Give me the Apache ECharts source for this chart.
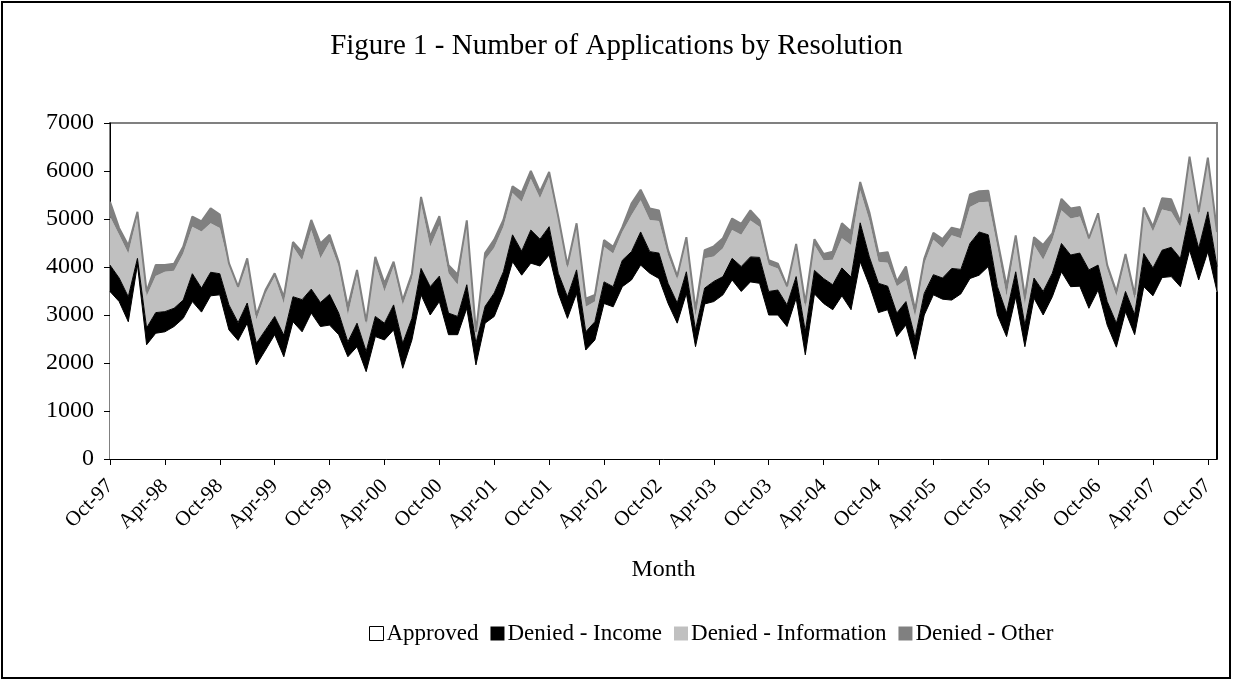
<!DOCTYPE html>
<html>
<head>
<meta charset="utf-8">
<script src="https://cdn.jsdelivr.net/npm/echarts@6/dist/echarts.min.js"></script>
<style>html,body{margin:0;padding:0;background:#fff}#c{width:1233px;height:681px}</style>
</head>
<body>
<div id="c"></div>
<script>
// Month labels Oct-97 .. Nov-07
const monthNames = ['Jan','Feb','Mar','Apr','May','Jun','Jul','Aug','Sep','Oct','Nov','Dec'];
const categories = [];
for (let i = 0; i < 122; i++) {
  const mi = (9 + i) % 12;
  const yy = (97 + Math.floor((9 + i) / 12)) % 100;
  categories.push(monthNames[mi] + '-' + String(yy).padStart(2, '0'));
}
const yTicks = [0,1000,2000,3000,4000,5000,6000,7000];

const approved = [3490,3280,2860,4050,2380,2620,2650,2760,2930,3280,
3060,3400,3420,2690,2470,2830,1960,2270,2590,2130,
2860,2650,3040,2760,2790,2590,2130,2340,1820,2550,
2480,2690,1890,2480,3420,3000,3280,2590,2590,3140,
1960,2830,2970,3450,4110,3830,4080,4020,4250,3450,
2930,3450,2270,2480,3240,3170,3590,3730,4040,3870,
3760,3240,2830,3450,2340,3230,3280,3420,3730,3490,
3690,3660,3000,3000,2760,3350,2170,3440,3240,3110,
3400,3110,4110,3620,3050,3110,2550,2790,2080,3000,
3420,3330,3310,3440,3760,3830,4010,3000,2550,3380,
2340,3350,3000,3380,3900,3590,3600,3140,3520,2790,
2330,3070,2590,3590,3400,3780,3800,3590,4350,3730,
4320,3490];

const deniedIncome = [550,490,520,130,350,430,420,380,380,580,
500,490,440,520,370,420,450,420,380,450,
520,670,500,500,640,450,310,490,420,420,
350,520,520,450,550,590,530,450,380,490,
450,350,490,450,560,500,690,560,590,420,
450,490,380,380,450,420,550,590,690,450,
530,420,420,450,350,330,420,380,450,520,
520,540,490,520,450,450,490,490,520,520,
580,680,810,590,610,490,490,490,440,450,
420,440,660,510,730,900,660,590,490,520,
450,420,490,490,590,660,690,800,520,490,
500,420,420,690,580,570,610,590,760,660,
830,520];

const deniedInfo = [1010,900,900,900,660,760,830,780,970,980,
1180,1020,950,830,710,830,490,760,830,660,
1040,820,1230,920,1090,970,560,1010,560,1110,
660,800,800,830,1350,830,1060,830,660,1320,
170,970,940,940,870,1030,1070,850,1040,1110,
590,900,520,420,730,690,590,760,660,660,
670,590,490,660,280,620,520,590,590,660,
760,640,550,450,350,620,490,530,380,520,
620,670,680,760,450,490,560,450,450,620,
730,630,690,650,760,620,690,830,350,660,
420,690,660,690,690,760,760,620,1010,690,
560,690,310,870,760,850,740,660,1140,690,
1070,690];

const deniedOther = [310,140,170,70,100,230,140,150,140,210,
210,310,280,40,40,100,100,70,70,140,
100,170,210,310,150,100,170,100,70,130,
170,100,100,100,140,210,190,170,210,20,
70,140,170,140,140,190,160,140,100,70,
70,70,170,140,140,140,100,240,220,240,
220,100,70,60,140,170,210,210,240,230,
210,130,100,100,40,60,100,120,130,170,
310,280,170,170,170,220,100,280,140,100,
140,180,160,170,260,230,230,140,210,100,
170,160,310,140,240,210,200,40,70,70,
100,90,100,90,100,230,260,100,50,70,
60,30];

const FONT = 'Liberation Serif';
const chart = echarts.init(document.getElementById('c'), null, {renderer: 'canvas'});
const lastCat = categories[categories.length - 1];

chart.setOption({
  backgroundColor: '#fff',
  animation: false,
  title: {
    text: 'Figure 1 - Number of Applications by Resolution',
    left: 'center', top: 27,
    textStyle: {fontFamily: FONT, fontSize: 29, fontWeight: 'normal', color: '#000'}
  },
  legend: {
    left: 364, top: 617,
    icon: 'rect', itemWidth: 14, itemHeight: 14, itemGap: 12,
    textStyle: {fontFamily: FONT, fontSize: 23, color: '#000', padding: [0,0,0,-2]},
    data: [
      {name: 'Approved', itemStyle: {color: '#fff', borderColor: '#000', borderWidth: 1}},
      {name: 'Denied - Income', itemStyle: {color: '#000'}},
      {name: 'Denied - Information', itemStyle: {color: '#c0c0c0'}},
      {name: 'Denied - Other', itemStyle: {color: '#808080'}}
    ]
  },
  graphic: [{
    type: 'rect', shape: {x: 2, y: 2, width: 1228, height: 676},
    style: {fill: 'none', stroke: '#000', lineWidth: 2}, z: 100, silent: true
  }],
  grid: {left: 110, top: 123, right: 16, bottom: 222, show: true, borderColor: '#808080', borderWidth: 2, backgroundColor: '#fff'},
  xAxis: [{
    type: 'category', data: categories, boundaryGap: false,
    name: 'Month', nameLocation: 'middle', nameGap: 99,
    nameTextStyle: {fontFamily: FONT, fontSize: 24, color: '#000'},
    axisLine: {lineStyle: {color: '#000', width: 1}},
    axisTick: {interval: 5, length: 6, lineStyle: {color: '#000'}},
    axisLabel: {interval: 5, rotate: 45, margin: 24, fontFamily: FONT, fontSize: 21, color: '#000'},
    splitLine: {show: false}
  }, {
    type: 'category', data: categories, boundaryGap: false, position: 'bottom',
    axisLine: {show: false},
    axisTick: {interval: 0, inside: true, length: 3, lineStyle: {color: '#555'}},
    axisLabel: {show: false}, splitLine: {show: false}
  }],
  yAxis: {
    type: 'value', min: yTicks[0], max: yTicks[yTicks.length - 1], interval: 1000,
    axisLine: {show: true, lineStyle: {color: '#000', width: 1}},
    axisTick: {show: true, length: 6, lineStyle: {color: '#000'}},
    axisLabel: {margin: 16, fontFamily: FONT, fontSize: 24, color: '#000', formatter: v => String(v)},
    splitLine: {show: false}
  },
  series: [
    {
      name: 'Approved', type: 'line', stack: 'total', symbol: 'none',
      itemStyle: {color: '#fff', borderColor: '#000'},
      lineStyle: {color: '#000', width: 1},
      areaStyle: {color: '#fff', opacity: 1},
      data: approved,
      markLine: {
        silent: true, symbol: 'none', label: {show: false},
        lineStyle: {color: '#000', width: 2, type: 'solid'},
        data: [[{coord: [lastCat, 0]}, {coord: [lastCat, approved[approved.length - 1]]}]]
      }
    },
    {
      name: 'Denied - Income', type: 'line', stack: 'total', symbol: 'none',
      itemStyle: {color: '#000'},
      lineStyle: {color: '#000', width: 1},
      areaStyle: {color: '#000', opacity: 1},
      data: deniedIncome
    },
    {
      name: 'Denied - Information', type: 'line', stack: 'total', symbol: 'none',
      itemStyle: {color: '#c0c0c0'},
      lineStyle: {width: 0},
      areaStyle: {color: '#c0c0c0', opacity: 1},
      data: deniedInfo
    },
    {
      name: 'Denied - Other', type: 'line', stack: 'total', symbol: 'none',
      itemStyle: {color: '#808080'},
      lineStyle: {color: '#808080', width: 2},
      areaStyle: {color: '#808080', opacity: 1},
      data: deniedOther
    }
  ]
});
</script>
</body>
</html>
